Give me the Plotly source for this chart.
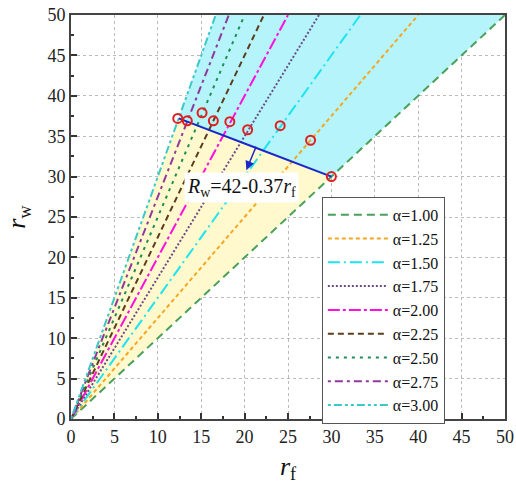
import plotly.graph_objects as go

alphas = [1.00, 1.25, 1.50, 1.75, 2.00, 2.25, 2.50, 2.75, 3.00]
alpha_labels = ["α=1.00", "α=1.25", "α=1.50", "α=1.75", "α=2.00", "α=2.25", "α=2.50", "α=2.75", "α=3.00"]
colors = ["#4aa05a", "#f5a623", "#1ee3f0", "#6b4c8a", "#ff10e0", "#5c3d1e", "#1e8c50", "#8e3a9a", "#3cc8c8"]
dashes = ["8px,5px", "4px,3px", "12px,4px,2px,4px", "2px,2px", "12px,3px,3px,3px",
          "6px,4px", "3px,5px", "3px,4px,8px,4px", "3px,3px,8px,3px,3px,3px"]

pts_rf = [12.3, 13.4, 15.1, 16.4, 18.3, 20.35, 24.1, 27.6, 30.0]
pts_rw = [37.2, 36.9, 37.9, 36.9, 36.8, 35.8, 36.3, 34.5, 30.0]

fit_rf = [12.4, 30.0]
fit_rw = [37.2, 30.0]

LIM = 50

fig = go.Figure()

# Fill regions
cy_x = [fit_rf[0], LIM / alphas[-1], LIM, fit_rf[1], fit_rf[0]]
cy_y = [fit_rw[0], LIM, LIM, fit_rw[1], fit_rw[0]]
fig.add_trace(go.Scatter(x=cy_x, y=cy_y, fill="toself", fillcolor="rgb(180,244,250)",
                         line=dict(width=0), mode="lines", showlegend=False, hoverinfo="skip"))
ye_x = [0, fit_rf[0], fit_rf[1], 0]
ye_y = [0, fit_rw[0], fit_rw[1], 0]
fig.add_trace(go.Scatter(x=ye_x, y=ye_y, fill="toself", fillcolor="rgb(255,249,205)",
                         line=dict(width=0), mode="lines", showlegend=False, hoverinfo="skip"))

for a, lab, c, d in zip(alphas, alpha_labels, colors, dashes):
    xe = min(LIM, LIM / a)
    fig.add_trace(go.Scatter(x=[0, xe], y=[0, a * xe], mode="lines", name=lab,
                             line=dict(color=c, width=2, dash=d)))

fig.add_trace(go.Scatter(x=fit_rf, y=fit_rw, mode="lines", line=dict(color="#1a28c8", width=2),
                         showlegend=False))
fig.add_trace(go.Scatter(x=pts_rf, y=pts_rw, mode="markers",
                         marker=dict(symbol="circle-open", size=9, color="#e02020", line=dict(width=2)),
                         showlegend=False))

fig.add_annotation(x=20.2, y=30.8, ax=21.4, ay=33.9, xref="x", yref="y", axref="x", ayref="y",
                   text="", showarrow=True, arrowhead=2, arrowsize=1.2, arrowwidth=1.5, arrowcolor="#1a28c8")
fig.add_annotation(x=19.6, y=28.6, xref="x", yref="y", showarrow=False,
                   text="<i>R</i><sub>w</sub>=42-0.37<i>r</i><sub>f</sub>",
                   font=dict(family="Liberation Serif", size=20, color="#111"),
                   bgcolor="white", borderpad=2)

axis_common = dict(range=[0, 50], dtick=5, showgrid=True, gridcolor="#bbbbbb", griddash="dot",
                   gridwidth=1, ticks="inside", ticklen=6, tickwidth=1.5, tickcolor="#333",
                   showline=True, linecolor="#444", linewidth=2, mirror=True, zeroline=False,
                   automargin=False,
                   tickfont=dict(family="Liberation Serif", size=18, color="#222"),
                   minor=dict(dtick=2.5, ticks="inside", ticklen=3, tickcolor="#333", showgrid=False))

fig.update_xaxes(**axis_common, title=dict(text="<i>r</i><sub>f</sub>",
                 font=dict(family="Liberation Serif", size=26, color="#111"), standoff=14))
fig.update_yaxes(**axis_common, title=dict(text="<i>r</i><sub>w</sub>",
                 font=dict(family="Liberation Serif", size=26, color="#111"), standoff=14))

fig.update_layout(
    width=516, height=484,
    margin=dict(l=71, r=11, t=15, b=65),
    plot_bgcolor="white", paper_bgcolor="white",
    legend=dict(x=0.578, y=0.55, xanchor="left", yanchor="top", bgcolor="white",
                bordercolor="#555", borderwidth=1,
                font=dict(family="Liberation Serif", size=16, color="#111"),
                tracegroupgap=0, itemwidth=60),
)

fig.write_html("out.html")
